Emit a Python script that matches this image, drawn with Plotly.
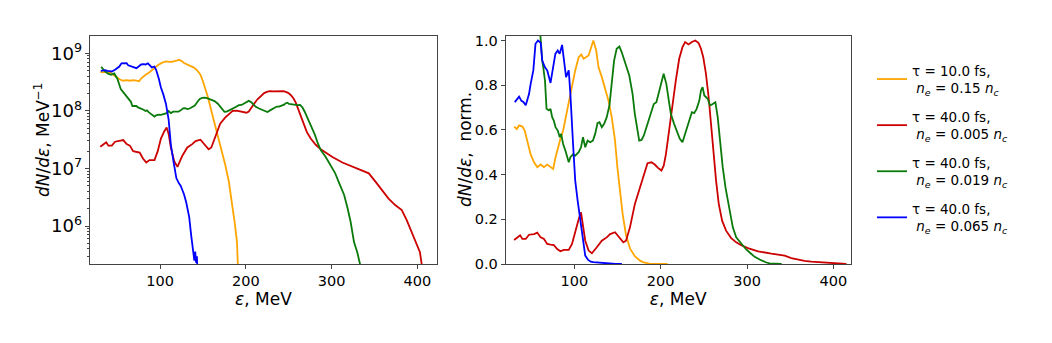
import plotly.graph_objects as go

# ---------------- data (normalized spectra; tails) -------------
E_orange = [30.3, 33.3, 36, 39.8, 42.5, 45.6, 49.4, 53.3, 57.1, 61, 64.8, 68.6, 72.4, 75.5, 78.2, 80.8, 83.9, 87,
            89.7, 93.5, 97.3, 101, 105, 108, 110.7, 113.8, 116.5, 119, 122, 125.3, 128, 131.8, 135.6, 139.5, 143.3,
            147.1, 149.8, 152.9, 155.9, 159.8, 164.4, 170, 176, 180.2, 184, 187, 189.7, 190.8, 195, 200, 208]
N_orange = [0.615, 0.604, 0.62, 0.615, 0.597, 0.545, 0.49, 0.455, 0.433, 0.445, 0.433, 0.445, 0.436, 0.425, 0.478,
            0.522, 0.56, 0.597, 0.649, 0.731, 0.806, 0.866, 0.925, 0.937, 0.918, 0.925, 0.933, 0.963, 1.0, 0.955,
            0.88, 0.836, 0.784, 0.731, 0.657, 0.552, 0.433, 0.313, 0.224, 0.13, 0.07, 0.035, 0.015, 0.0077, 0.0034,
            0.0015, 0.00069, 0.00026, 0.0001, 5e-5, 2e-5]

E_red = [30.3, 34, 37.2, 39.8, 43.7, 47.5, 53.3, 57.1, 61, 64.8, 68.6, 72.4, 76.2, 80.1, 83.9, 87.7, 93.5, 97.3,
         101, 105, 107.7, 110, 112.6, 116.5, 120.3, 126, 131.8, 137.5, 141.4, 147.1, 152.1, 156.7, 159.8, 164.4,
         170.1, 175.9, 180.5, 184.7, 189.3, 193.1, 196.9, 200.8, 203.5, 206, 209.7, 213.6, 217.5, 221.4, 225.2,
         228.3, 232.2, 236.1, 240, 243.9, 246.6, 249.3, 252.4, 255.5, 258.3, 261, 264.1, 267.2, 271.1, 275.7,
         281.6, 287.4, 293.2, 301, 312.7, 328.1, 337.7, 343.5, 351.2, 358.8, 366.5, 374.2, 381.9, 387.7, 393.5,
         399.2, 403.1, 405.5, 408, 415]
N_red = [0.107, 0.119, 0.128, 0.112, 0.112, 0.131, 0.134, 0.14, 0.119, 0.112, 0.09, 0.087, 0.085, 0.067, 0.057,
         0.063, 0.063, 0.09, 0.149, 0.2, 0.231, 0.179, 0.104, 0.06, 0.048, 0.075, 0.104, 0.119, 0.134, 0.142, 0.119,
         0.097, 0.104, 0.164, 0.269, 0.343, 0.403, 0.451, 0.455, 0.445, 0.43, 0.418, 0.44, 0.49, 0.597, 0.716,
         0.821, 0.918, 0.97, 0.993, 0.982, 0.993, 1.0, 0.988, 0.963, 0.925, 0.851, 0.746, 0.627, 0.49, 0.373,
         0.269, 0.194, 0.149, 0.116, 0.097, 0.084, 0.071, 0.057, 0.046, 0.040, 0.037, 0.0266, 0.0189, 0.0135,
         0.0104, 0.0085, 0.0057, 0.0035, 0.0022, 0.00158, 0.0009, 0.00045, 0.00014]

E_green = [31.3, 35.1, 38.9, 42.7, 46.6, 50.4, 54.2, 58, 60.2, 61.7, 62.8, 64, 66, 67.8, 70.5, 72.4, 74.3, 76.2,
           78.2, 80.8, 83.1, 84.7, 87, 89.7, 91.6, 93.5, 95.4, 98.5, 101.1, 105, 107.7, 110, 112.6, 115.3, 118.4,
           121.5, 124.1, 126.8, 129.1, 131.8, 134.5, 137.5, 140.6, 143.3, 146, 149, 152.1, 154.8, 157.5, 160.5,
           163.6, 167.4, 170, 172.8, 175.1, 177.8, 180.5, 183.5, 186.6, 189.3, 192, 195, 198.1, 200.8, 203.4,
           206.5, 209.6, 211.7, 215.5, 219.4, 222.1, 225.2, 228.3, 232.2, 236.1, 238.8, 241.6, 244.7, 246.6,
           248.5, 250.5, 254.4, 257.1, 260.2, 263.3, 266, 268.7, 271.8, 275, 277.7, 280.4, 283.5, 287.4, 293.2,
           299, 304, 308.8, 314.6, 318.5, 322.3, 326.2, 330, 333.8, 336, 340]
N_green = [3.34, 2.84, 2.55, 2.42, 2.55, 2.03, 1.36, 1.15, 1.03, 0.97, 0.91, 0.88, 0.82, 0.694, 0.687, 0.694, 0.657,
           0.642, 0.612, 0.597, 0.567, 0.582, 0.537, 0.507, 0.478, 0.455, 0.478, 0.49, 0.485, 0.5, 0.522, 0.567,
           0.522, 0.552, 0.545, 0.552, 0.582, 0.63, 0.634, 0.612, 0.627, 0.657, 0.709, 0.806, 0.91, 0.963, 0.973,
           0.948, 0.91, 0.88, 0.843, 0.761, 0.672, 0.597, 0.552, 0.555, 0.575, 0.612, 0.649, 0.687, 0.716, 0.724,
           0.776, 0.821, 0.851, 0.806, 0.735, 0.672, 0.627, 0.59, 0.56, 0.545, 0.582, 0.634, 0.679, 0.675, 0.694,
           0.731, 0.776, 0.791, 0.754, 0.739, 0.709, 0.716, 0.724, 0.657, 0.552, 0.433, 0.343, 0.284, 0.224, 0.164,
           0.119, 0.09, 0.065, 0.048, 0.032, 0.02, 0.012, 0.0067, 0.003, 0.002, 0.00114, 0.00057, 0.00017]

E_blue = [31, 34, 36, 38.7, 41, 43.7, 47.5, 49.4, 52.5, 55, 57.9, 61, 62.8, 66, 68.6, 72.4, 75, 78, 80.8, 83, 85.8,
          87.7, 90.4, 93.5, 95.4, 98.5, 101, 103.8, 106.9, 110, 112.6, 116, 119, 122, 124, 126, 128, 130.5, 132.4,
          134, 136.3, 139, 140, 141, 142, 143, 143.6, 148, 155]
N_blue = [0.724, 0.74, 0.749, 0.73, 0.725, 0.71, 0.76, 0.806, 0.866, 0.985, 1.0, 0.99, 0.91, 0.88, 0.866, 0.81,
          0.866, 0.94, 0.955, 0.94, 0.98, 0.91, 0.836, 0.866, 0.76, 0.537, 0.373, 0.284, 0.194, 0.104, 0.0378,
          0.0181, 0.01, 0.0081, 0.0074, 0.0062, 0.0052, 0.0038, 0.00256, 0.0021, 0.00101, 0.000515, 0.000368,
          0.00053, 0.000338, 0.00044, 0.00022, 7.4e-5, 3e-5]

# normalization constants (dN/dE in MeV^-1 corresponding to 1.0 on the right panel)
peak_orange = 7.7e8
peak_red = 2.22e8
peak_green = 1.75e8
peak_blue = 6.8e8

series = [
    ("τ = 10.0 fs,<br>\u00a0<i>n</i><sub><i>e</i></sub> = 0.15 <i>n</i><sub><i>c</i></sub>",
     E_orange, N_orange, peak_orange, "#FFA500"),
    ("τ = 40.0 fs,<br>\u00a0<i>n</i><sub><i>e</i></sub> = 0.005 <i>n</i><sub><i>c</i></sub>",
     E_red, N_red, peak_red, "#CC0000"),
    ("τ = 40.0 fs,<br>\u00a0<i>n</i><sub><i>e</i></sub> = 0.019 <i>n</i><sub><i>c</i></sub>",
     E_green, N_green, peak_green, "#0A7A0A"),
    ("τ = 40.0 fs,<br>\u00a0<i>n</i><sub><i>e</i></sub> = 0.065 <i>n</i><sub><i>c</i></sub>",
     E_blue, N_blue, peak_blue, "#0000FF"),
]

FONT = "DejaVu Sans"
fig = go.Figure()
for i, (name, E, N, peak, color) in enumerate(series):
    fig.add_trace(go.Scatter(x=E, y=[v * peak for v in N], mode="lines", name=name,
                             line=dict(color=color, width=1.8), legendgroup=f"g{i}",
                             xaxis="x", yaxis="y"))
for i, (name, E, N, peak, color) in enumerate(series):
    fig.add_trace(go.Scatter(x=E, y=N, mode="lines", name=name, showlegend=False,
                             line=dict(color=color, width=1.8), legendgroup=f"g{i}",
                             xaxis="x2", yaxis="y2"))

axis_common = dict(showline=True, mirror=True, linecolor="#444", linewidth=1, ticks="outside", ticklen=4,
                   tickcolor="#444", showgrid=False, zeroline=False, tickfont=dict(family=FONT, size=14.5, color="black"))
W, H = 1052, 343
ydom = [1 - 264 / H, 1 - 36 / H]
fig.update_layout(
    width=W, height=H, margin=dict(l=0, r=0, t=0, b=0),
    paper_bgcolor="white", plot_bgcolor="white", template="none",
    font=dict(family=FONT, color="black"),
    xaxis=dict(domain=[90 / W, 437 / W], range=[18.3, 423], tickvals=[100, 200, 300, 400], anchor="y",
               title=dict(text="<i>ε</i>, MeV", font=dict(family=FONT, size=17), standoff=4), **axis_common),
    yaxis=dict(domain=ydom, type="log", range=[5.34, 9.30], dtick=1, exponentformat="power", showexponent="all",
               anchor="x", minor=dict(ticks="outside", ticklen=2, tickcolor="#444", showgrid=False),
               **axis_common),
    xaxis2=dict(domain=[505.7 / W, 850.7 / W], range=[20.5, 420], tickvals=[100, 200, 300, 400], anchor="y2",
                title=dict(text="<i>ε</i>, MeV", font=dict(family=FONT, size=17), standoff=4), **axis_common),
    yaxis2=dict(domain=ydom, range=[0, 1.02], tickvals=[0, 0.2, 0.4, 0.6, 0.8, 1.0], tickformat=".1f", anchor="x2",
                **axis_common),
    legend=dict(x=872 / W, y=1 - 55 / H, xanchor="left", yanchor="top", bgcolor="rgba(0,0,0,0)",
                font=dict(family=FONT, size=13.5, color="black"), tracegroupgap=8, traceorder="grouped",
                valign="middle"),
    showlegend=True,
    annotations=[
        dict(text="<i>dN</i>/<i>dε</i>, MeV<sup>−1</sup>", textangle=-90, xref="paper", yref="paper",
             x=42 / W, y=1 - 140 / H, xanchor="center", yanchor="middle", showarrow=False,
             font=dict(family=FONT, size=17, color="black")),
        dict(text="<i>dN</i>/<i>dε</i>,\u00a0 norm.", textangle=-90, xref="paper", yref="paper",
             x=465 / W, y=1 - 150 / H, xanchor="center", yanchor="middle", showarrow=False,
             font=dict(family=FONT, size=17, color="black")),
    ],
)
fig.write_html("out.html")
